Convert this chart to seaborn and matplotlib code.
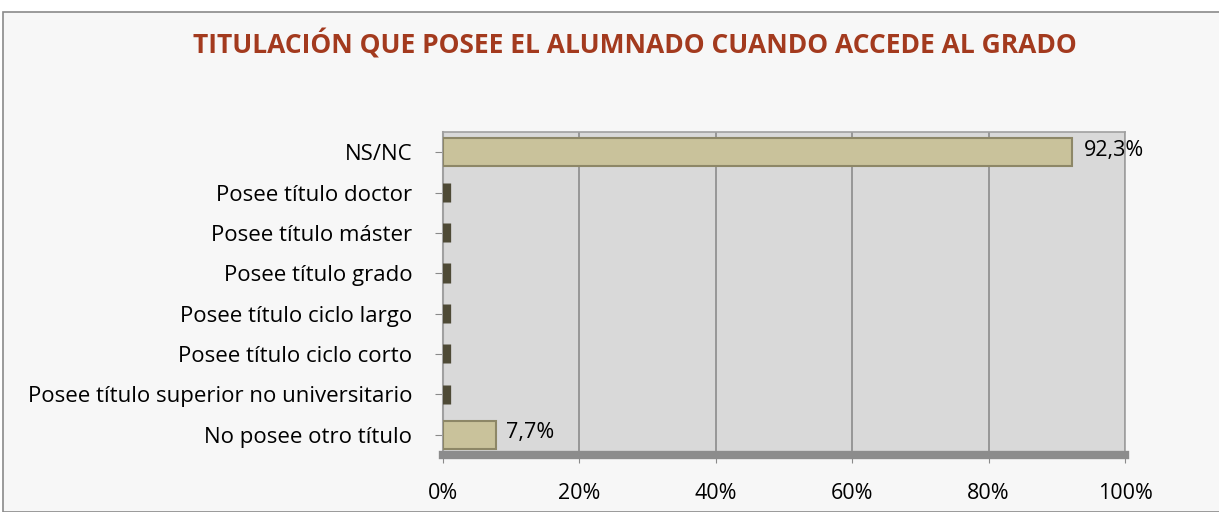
import matplotlib
matplotlib.use("Agg")
import matplotlib.pyplot as plt
import seaborn as sns
import pandas as pd
from matplotlib.patches import Rectangle

categories = [
    "NS/NC",
    "Posee título doctor",
    "Posee título máster",
    "Posee título grado",
    "Posee título ciclo largo",
    "Posee título ciclo corto",
    "Posee título superior no universitario",
    "No posee otro título",
]
values = [92.3, 0, 0, 0, 0, 0, 0, 7.7]
x_ticks = [0, 20, 40, 60, 80, 100]
x_ticklabels = ["0%", "20%", "40%", "60%", "80%", "100%"]
title = "TITULACIÓN QUE POSEE EL ALUMNADO CUANDO ACCEDE AL GRADO"

df = pd.DataFrame({"cat": categories, "val": values})

sns.set_style("white")
plt.rcParams["font.family"] = ["Open Sans", "DejaVu Sans"]

W, H = 1219, 512
fig = plt.figure(figsize=(W / 100, H / 100), dpi=100)
fig.patch.set_facecolor("white")
fig.add_artist(Rectangle((3 / W, 0), 1.2, 1 - 12 / H, transform=fig.transFigure,
                         facecolor="#f7f7f7", edgecolor="#8a8a8a", linewidth=1.2, zorder=-10))

ax = fig.add_axes([443 / W, 1 - 455 / H, (1125 - 443) / W, (455 - 132) / H])
ax.set_facecolor("#d9d9d9")

sns.barplot(data=df, x="val", y="cat", orient="h", color="#c9c29b",
            width=0.68, ax=ax, saturation=1, zorder=3)

for p, v in zip(ax.patches, values):
    if v == 0:
        p.set_edgecolor("#4e4a36")
        p.set_linewidth(11)
        p.set_facecolor("#4e4a36")
        p.set_height(p.get_height() * 0.7)
        p.set_y(p.get_y() + p.get_height() * 0.2)
    else:
        p.set_edgecolor("#8d8767")
        p.set_linewidth(1.5)

for i, v in enumerate(values):
    if v > 0:
        ax.text(v + 1.6, i - 0.05, f"{v:.1f}%".replace(".", ","), va="center", ha="left",
                fontsize=15.5, color="black", zorder=5)

ax.set_xlim(0, 100)
ax.set_xticks(x_ticks)
ax.set_xticklabels(x_ticklabels, fontsize=15.5, color="black")
ax.tick_params(axis="x", pad=14, length=6, color="#8a8a8a", direction="out", bottom=True)
ax.tick_params(axis="y", labelsize=16, labelcolor="black", length=6, color="#8a8a8a", pad=16, left=True)
ax.set_xlabel("")
ax.set_ylabel("")
ax.xaxis.grid(True, color="#8c8c8c", linewidth=1.2, zorder=0)
ax.set_axisbelow(True)
for s in ["top", "right"]:
    ax.spines[s].set_color("#a0a0a0")
    ax.spines[s].set_linewidth(1.2)
ax.spines["left"].set_color("#a0a0a0")
ax.spines["left"].set_linewidth(1.5)
ax.spines["bottom"].set_color("#8c8c8c")
ax.spines["bottom"].set_linewidth(6)

fig.text(0.5 * (190 + 1080) / W, 1 - 45 / H, title, ha="center", va="center",
         fontsize=19, fontweight="bold", color="#a33a1e")

fig.savefig("out.png", dpi=100)
